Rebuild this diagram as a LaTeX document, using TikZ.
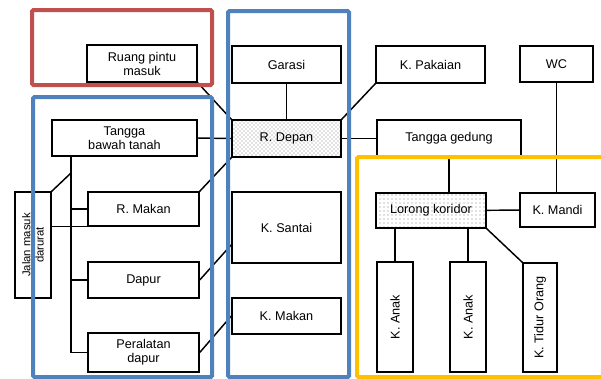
\documentclass[tikz,border=0pt]{standalone}
\usepackage{fontspec}
\setmainfont{Liberation Sans}
\usetikzlibrary{patterns}
\tikzset{
  room/.style 2 args={draw, line width=1.1pt, inner sep=0pt, align=center,
    minimum width=#1*0.75pt, minimum height=#2*0.75pt,
    font=\fontsize{9.5}{10.5}\selectfont},
  frame/.style={line width=3pt, rounded corners=1pt}
}
\definecolor{framered}{RGB}{192,80,77}
\definecolor{frameblue}{RGB}{79,129,189}
\definecolor{frameyellow}{RGB}{255,192,0}
\begin{document}
\begin{tikzpicture}[x=0.75pt, y=-0.75pt]
      \useasboundingbox (0,0) rectangle (601,379);
      \draw
        (142,63.5) node[room={110}{37}] (pintu){Ruang pintu\\masuk}
        (124.5,138) node[room={145}{36}] (tanggabt){Tangga\\bawah tanah}
        (286.5,64.5) node[room={109}{37}] (garasi){Garasi}
        (286.5,138.5) node[room={109}{37}, pattern=crosshatch dots, pattern color=gray] (depan){R. Depan}
        (430.5,64.5) node[room={109}{37}] (pakaian){K. Pakaian}
        (556.5,64) node[room={73}{36}] (wc){WC}
        (449,138.5) node[room={144}{37}] (tgedung){Tangga gedung}
        (431,210.5) node[room={110}{35}, pattern=dots, pattern color=gray] (koridor){Lorong koridor}
        (557.5,210) node[room={75}{34}] (mandi){K. Mandi}
        (395,317) node[room={110}{36}, rotate=90] (anaka){K. Anak}
        (468,317) node[room={110}{36}, rotate=90] (anakb){K. Anak}
        (540,317.5) node[room={109}{34}, rotate=90] (tidur){K. Tidur Orang}
        (143.5,209) node[room={111}{34}] (rmakan){R. Makan}
        (143.5,280) node[room={111}{36}] (dapur){Dapur}
        (143.5,352.5) node[room={111}{39}] (alat){Peralatan\\dapur}
        (33,245) node[room={106}{36}, rotate=90, font=\fontsize{8.5}{10}\selectfont] (darurat){Jalan masuk\\darurat}
        (286.5,227.5) node[room={109}{71}] (santai){K. Santai}
        (286.5,316) node[room={109}{36}] (kmakan){K. Makan};
      \coordinate (trunk) at (71,156);
      \coordinate (trunkj) at (71,173);
      \begin{scope}[-, line width=1.1pt]
        \draw (pintu.south east) to (depan.north west);
        \draw (tanggabt.east) to (depan.west);
        \draw (garasi) to (depan);
        \draw (depan.north east) to (pakaian.south west);
        \draw (depan.east) to (tgedung.west);
        \draw (tgedung.south) to (tgedung.south |- koridor.north);
        \draw (wc.south) to (wc.south |- mandi.north);
        \draw (koridor) to (mandi);
        \draw (koridor.south -| anaka.east) to (anaka.east);
        \draw (koridor.south -| anakb.east) to (anakb.east);
        \draw (koridor.south east) to (tidur.north east);
        \draw (trunk) |- (alat.west);
        \draw (trunk |- rmakan.west) to (rmakan.west);
        \draw (trunk |- dapur.west) to (dapur.west);
        \draw (darurat.south east) to (trunkj);
        \draw (rmakan.south west -| darurat.south) to (rmakan.south west);
        \draw (rmakan.north east) to (depan.south west);
        \draw (dapur.east) to ([yshift=-13pt]santai.west);
        \draw (alat.east) to (kmakan.west);
      \end{scope}
      \draw[frame, framered] (32,10) rectangle (212,85);
      \draw[frame, frameblue] (33,97) rectangle (212,377);
      \draw[frame, frameblue] (228,11) rectangle (349,377);
      \draw[frame, frameyellow] (357,157) rectangle (608,377);
    \end{tikzpicture}
\end{document}
